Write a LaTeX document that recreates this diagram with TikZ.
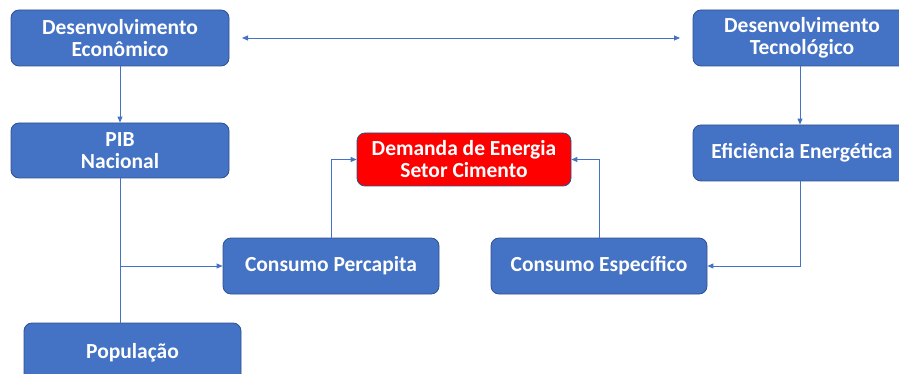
\documentclass[tikz,border=0pt]{standalone}
\usepackage{fontspec}
\setmainfont{Carlito}
\usetikzlibrary{arrows.meta}
\definecolor{boxblue}{HTML}{4472C4}
\definecolor{boxedge}{HTML}{2F528F}
\definecolor{lineblue}{HTML}{4472C4}
\begin{document}
\begin{tikzpicture}[x=1pt,y=-1pt,
  box/.style={draw=boxedge,line width=0.8pt,fill=boxblue,rounded corners=8pt,text=white,
    font=\fontsize{21.5}{22}\selectfont\bfseries,align=center,inner sep=0pt},
  redbox/.style={box,fill=red,draw=boxedge},
  conn/.style={draw=lineblue,line width=0.9pt,-{Triangle[length=6pt,width=5pt]}},
  dconn/.style={draw=lineblue,line width=0.9pt,{Triangle[length=6pt,width=5pt]}-{Triangle[length=6pt,width=5pt]}}]
\useasboundingbox (0,0) rectangle (899,374);
\node[box,minimum width=218pt,minimum height=56pt] (de) at (120,38) {Desenvolvimento\\Econômico};
\node[box,minimum width=218pt,minimum height=55pt] (pib) at (120,150.5) {PIB\\Nacional};
\node[box,minimum width=218pt,minimum height=56pt] (dt) at (802,38) {Desenvolvimento\\Tecnológico};
\node[box,minimum width=218pt,minimum height=56pt] (ee) at (802,153) {Eficiência Energética};
\node[redbox,minimum width=214pt,minimum height=53pt] (dem) at (464,159.5) {Demanda de Energia\\Setor Cimento};
\node[box,minimum width=216pt,minimum height=56pt] (cp) at (331,266) {Consumo Percapita};
\node[box,minimum width=216pt,minimum height=56pt] (ce) at (599,266) {Consumo Específico};
\node[box,minimum width=217pt,minimum height=60pt] (pop) at (132.5,353) {};
\node[text=white,font=\fontsize{21.5}{22}\selectfont\bfseries] (poptext) at (132.5,353) {População};
\coordinate (dl) at (242,38);
\coordinate (dr) at (680,38);
\draw[dconn] (dl) -- (dr);
\draw[conn] (de) -- (pib);
\draw[conn] (dt.south -| 800,0) -- (ee.north -| 800,0);
\coordinate (br) at (120,266);
\draw[draw=lineblue,line width=0.9pt] (pib.south) -- (pib.south |- pop.north);
\draw[conn] (br) -- (cp.west);
\draw[conn] (cp.north) |- (dem.west);
\draw[conn] (ce.north) |- (dem.east);
\draw[conn] (ee.south -| 800,0) |- (ce.east);
\end{tikzpicture}
\end{document}
